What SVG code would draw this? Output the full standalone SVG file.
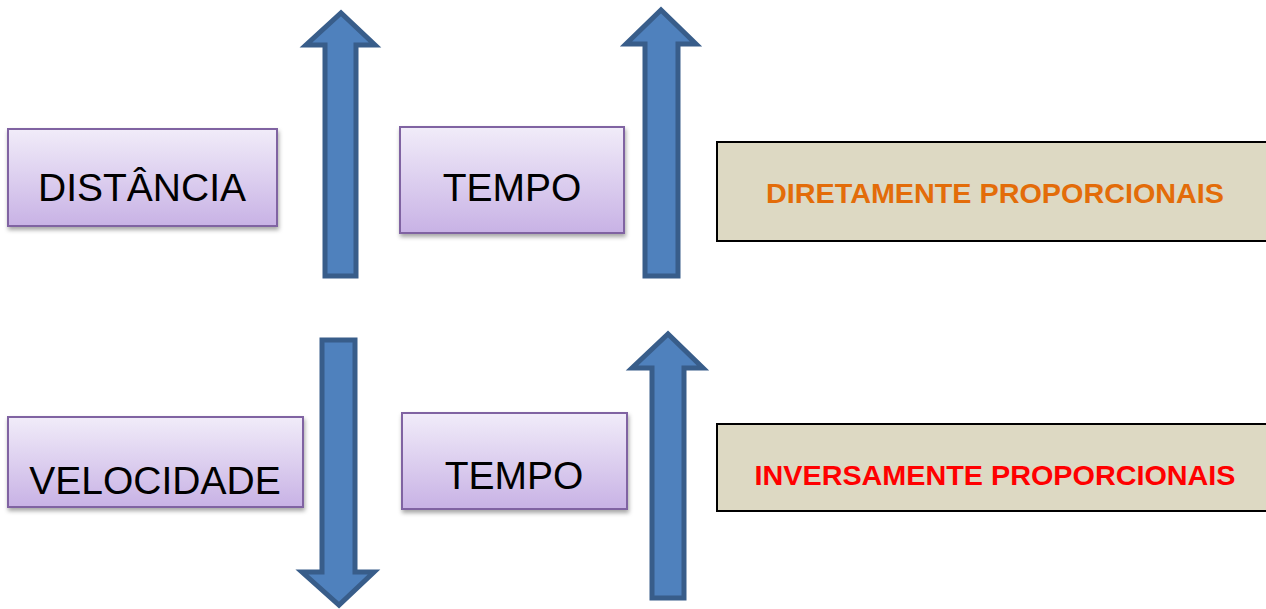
<svg xmlns="http://www.w3.org/2000/svg" width="1266" height="609" viewBox="0 0 1266 609">
<defs>
<linearGradient id="pg" x1="0" y1="0" x2="0" y2="1">
<stop offset="0" stop-color="#F1ECF9"/>
<stop offset="1" stop-color="#C8B2E5"/>
</linearGradient>
<filter id="sh" x="-10%" y="-10%" width="125%" height="130%">
<feDropShadow dx="1" dy="3" stdDeviation="2" flood-color="#000" flood-opacity="0.35"/>
</filter>
</defs>
<style>
.box{fill:url(#pg);stroke:#8064A2;stroke-width:2;filter:url(#sh)}
.lbl{font-family:"Liberation Sans",Arial,sans-serif;font-size:39px;fill:#000;text-anchor:middle}
.res{fill:#DDD9C3;stroke:#000;stroke-width:2}
.rt{font-family:"Liberation Sans",Arial,sans-serif;font-size:28px;font-weight:bold;text-anchor:middle}
.arr{fill:#4F81BD;stroke:#385D8A;stroke-width:5;stroke-linejoin:miter}
</style>
<rect width="1266" height="609" fill="#fff"/>
<g id="connectors">
<path class="arr" d="M325,276 V45 H306 L341,13 L375,45 H356 V276 Z"/>
<path class="arr" d="M645,276 V44 H626 L661,10 L696,44 H678 V276 Z"/>
<path class="arr" d="M322,340 V572 H302 L339,605 L374,572 H355 V340 Z"/>
<path class="arr" d="M652,598 V368 H632 L668,334 L703,368 H684 V598 Z"/>
</g>
<g id="distancia">
<rect class="box" x="8" y="129" width="269" height="97"/>
<text class="lbl" x="142" y="201">DISTÂNCIA</text>
</g>
<g id="tempo1">
<rect class="box" x="400" y="127" width="224" height="106"/>
<text class="lbl" x="512" y="201" font-size="40">TEMPO</text>
</g>
<g id="velocidade">
<rect class="box" x="8" y="417" width="295" height="90"/>
<text class="lbl" x="155" y="494">VELOCIDADE</text>
</g>
<g id="tempo2">
<rect class="box" x="402" y="413" width="225" height="96"/>
<text class="lbl" x="514" y="489" font-size="40">TEMPO</text>
</g>
<g id="diretamente">
<rect class="res" x="717" y="142" width="560" height="99"/>
<text class="rt" x="995" y="203" fill="#E36C09" textLength="458" lengthAdjust="spacingAndGlyphs">DIRETAMENTE PROPORCIONAIS</text>
</g>
<g id="inversamente">
<rect class="res" x="717" y="424" width="560" height="87"/>
<text class="rt" x="995" y="485" fill="#FF0000" textLength="481" lengthAdjust="spacingAndGlyphs">INVERSAMENTE PROPORCIONAIS</text>
</g>
</svg>
